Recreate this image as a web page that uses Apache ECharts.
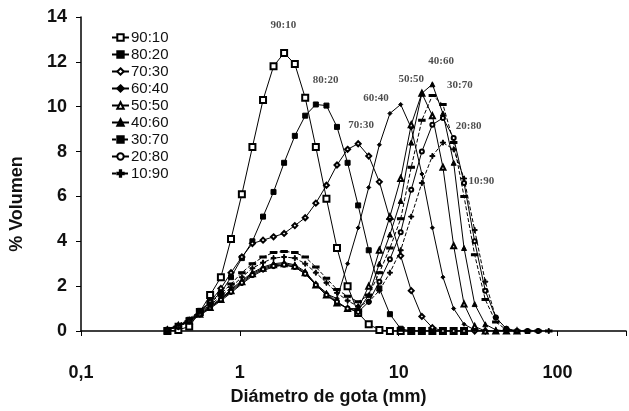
<!DOCTYPE html>
<html>
<head>
<meta charset="utf-8">
<script src="https://cdn.jsdelivr.net/npm/echarts@6/dist/echarts.min.js"></script>
<style>
  html, body { margin: 0; padding: 0; background: #fff; }
  #chart { width: 629px; height: 411px; }
</style>
</head>
<body>
<div id="chart"></div>
<script>
// diámetro de gota (mm), common size classes
const diam = [0.35, 0.41, 0.48, 0.56, 0.65, 0.76, 0.88, 1.03, 1.20, 1.40, 1.63, 1.90, 2.22, 2.58, 3.01, 3.51, 4.09, 4.77, 5.56, 6.48,
  7.56, 8.81, 10.3, 12.0, 14.0, 16.3, 19.0, 22.2, 25.8, 30.1, 35.1, 40.9, 47.7, 55.6, 64.8, 75.6, 88.1];

// % volumen per ratio
const v9010 = [0, 0.05, 0.2, 0.85, 1.6, 2.4, 4.1, 6.1, 8.2, 10.3, 11.8, 12.4, 11.9, 10.4, 8.2, 5.9, 3.7, 2.0, 0.8, 0.3, 0.05, 0, 0, 0, 0, 0, 0, 0, 0];
const v8020 = [0.05, 0.2, 0.5, 0.9, 1.3, 1.7, 2.4, 3.25, 4.0, 5.1, 6.2, 7.5, 8.7, 9.6, 10.1, 10.05, 9.1, 7.5, 5.6, 3.6, 1.9, 0.75, 0.1, 0, 0, 0, 0];
const v7030 = [0.05, 0.2, 0.45, 0.8, 1.3, 1.9, 2.6, 3.3, 3.9, 4.05, 4.2, 4.35, 4.7, 5.05, 5.7, 6.5, 7.4, 8.1, 8.35, 7.8, 6.65, 5.0, 3.35, 1.8, 0.65, 0.15, 0, 0, 0, 0, 0];
const v6040 = [0.05, 0.2, 0.4, 0.7, 1.0, 1.35, 1.7, 2.1, 2.45, 2.7, 2.85, 2.95, 2.85, 2.55, 2.1, 1.65, 1.45, 3.0, 4.6, 6.4, 8.3, 9.7, 10.1, 9.05, 7.0, 4.6, 2.4, 1.0, 0.3, 0.05, 0, 0, 0];
const v5050 = [0.05, 0.25, 0.45, 0.75, 1.05, 1.4, 1.8, 2.2, 2.55, 2.8, 2.95, 3.0, 2.9, 2.6, 2.05, 1.6, 1.25, 1.0, 1.0, 2.0, 3.6, 5.1, 6.8, 9.2, 10.6, 9.6, 7.3, 3.8, 1.2, 0.2, 0, 0, 0, 0];
const v4060 = [0.1, 0.25, 0.5, 0.8, 1.1, 1.45, 1.85, 2.25, 2.6, 2.85, 3.0, 3.05, 2.95, 2.65, 2.1, 1.7, 1.3, 1.0, 0.9, 1.6, 3.0, 4.3, 5.8, 8.4, 10.6, 11.0, 9.7, 7.5, 3.7, 1.2, 0.3, 0.05, 0, 0, 0];
const v3070 = [0.1, 0.3, 0.55, 0.9, 1.25, 1.65, 2.1, 2.6, 3.0, 3.3, 3.5, 3.55, 3.5, 3.3, 2.85, 2.35, 1.85, 1.55, 1.3, 1.6, 2.6, 3.7, 5.0, 7.3, 9.4, 10.5, 10.1, 8.4, 6.0, 3.4, 1.4, 0.4, 0.05, 0, 0, 0, 0];
const v2080 = [0.05, 0.2, 0.45, 0.75, 1.05, 1.4, 1.75, 2.15, 2.5, 2.75, 2.9, 2.95, 2.85, 2.55, 2.05, 1.6, 1.3, 1.0, 0.85, 1.3, 2.2, 3.2, 4.4, 6.3, 8.0, 9.2, 9.5, 8.6, 6.6, 4.0, 1.8, 0.6, 0.1, 0, 0, 0];
const v1090 = [0.05, 0.25, 0.5, 0.85, 1.15, 1.55, 1.95, 2.4, 2.8, 3.05, 3.25, 3.3, 3.25, 3.0, 2.6, 2.15, 1.7, 1.35, 1.1, 1.3, 1.8, 2.6, 3.6, 5.1, 6.6, 7.8, 8.4, 8.1, 6.8, 4.5, 2.2, 0.6, 0.1, 0, 0, 0, 0];

const names = ['90:10', '80:20', '70:30', '60:40', '50:50', '40:60', '30:70', '20:80', '10:90'];
const values = [v9010, v8020, v7030, v6040, v5050, v4060, v3070, v2080, v1090];

// peak labels: [diámetro, % volumen, text]
const peakLabels = [
  [1.88, 13.65, '90:10'], [3.47, 11.2, '80:20'], [5.8, 9.2, '70:30'], [7.2, 10.4, '60:40'],
  [12.0, 11.25, '50:50'], [18.5, 12.05, '40:60'], [24.3, 10.95, '30:70'], [27.6, 9.13, '20:80'], [33.2, 6.7, '10:90']
];

const yTicks = [0, 14, 2];
const xTicks = [0.1, 270];

const plus = 'path://M4,0h2v4h4v2h-4v4h-2v-4h-4v-2h4z';
const symbols = [
  ['emptyRect', 6], ['rect', 5], ['emptyDiamond', 5], ['diamond', 4], ['emptyTriangle', 5],
  ['triangle', 5], ['rect', [5, 2]], ['emptyCircle', 4], [plus, 5]
];
const dashed = [false, false, false, false, false, false, true, false, true];

const font = 'Liberation Sans, Arial, sans-serif';

const series = names.map(function (n, k) {
  return {
    name: n,
    type: 'line',
    data: values[k].map(function (v, i) { return [diam[i], v]; }),
    symbol: symbols[k][0],
    symbolSize: symbols[k][1],
    showSymbol: true,
    lineStyle: { color: '#000', width: 1, type: dashed[k] ? [4, 2] : 'solid' },
    itemStyle: { color: '#000', borderColor: '#000', borderWidth: 1 },
    z: 3
  };
});

series.push({
  name: 'labels',
  type: 'scatter',
  symbolSize: 0,
  silent: true,
  data: peakLabels.map(function (p) { return { value: [p[0], p[1]], name: p[2] }; }),
  label: {
    show: true,
    position: 'inside',
    formatter: function (p) { return p.name; },
    fontFamily: 'Liberation Serif, Times New Roman, serif',
    fontWeight: 'bold',
    fontSize: 11,
    color: '#222'
  }
});

const chart = echarts.init(document.getElementById('chart'));
chart.setOption({
  animation: false,
  backgroundColor: '#fff',
  grid: { left: 77, right: 0, top: 17, bottom: 71 },
  legend: {
    data: names,
    orient: 'vertical',
    left: 106,
    top: 25,
    itemWidth: 17,
    itemHeight: 8,
    itemGap: 2,
    textStyle: { fontFamily: font, fontSize: 15, lineHeight: 14, color: '#111', padding: [0, 0, 0, -3] }
  },
  xAxis: {
    type: 'log',
    logBase: 10,
    min: xTicks[0],
    max: xTicks[1],
    name: 'Diámetro de gota (mm)',
    nameLocation: 'middle',
    nameGap: 57,
    nameTextStyle: { fontFamily: font, fontWeight: 'bold', fontSize: 18, color: '#111', padding: [0, 50, 0, 0] },
    axisLine: { lineStyle: { color: '#000', width: 1.5 } },
    axisTick: { show: true, length: 5, lineStyle: { color: '#000' } },
    minorTick: { show: false },
    splitLine: { show: false },
    axisLabel: {
      margin: 33,
      fontFamily: font,
      fontWeight: 'bold',
      fontSize: 18,
      color: '#111',
      formatter: function (v) {
        const l = Math.log10(v);
        if (Math.abs(l - Math.round(l)) > 1e-6) return '';
        return String(Math.pow(10, Math.round(l)) >= 1 ? Math.round(v) : v).replace('.', ',');
      }
    }
  },
  yAxis: {
    type: 'value',
    min: yTicks[0],
    max: yTicks[1],
    interval: yTicks[2],
    name: '% Volumen',
    nameLocation: 'middle',
    nameGap: 55,
    nameTextStyle: { fontFamily: font, fontWeight: 'bold', fontSize: 18, color: '#111', padding: [0, 60, 0, 0] },
    axisLine: { show: true, lineStyle: { color: '#000', width: 1.5 } },
    axisTick: { show: true, length: 5, lineStyle: { color: '#000' } },
    splitLine: { show: false },
    axisLabel: { margin: 14, fontFamily: font, fontWeight: 'bold', fontSize: 18, color: '#111' }
  },
  series: series
});
</script>
</body>
</html>
